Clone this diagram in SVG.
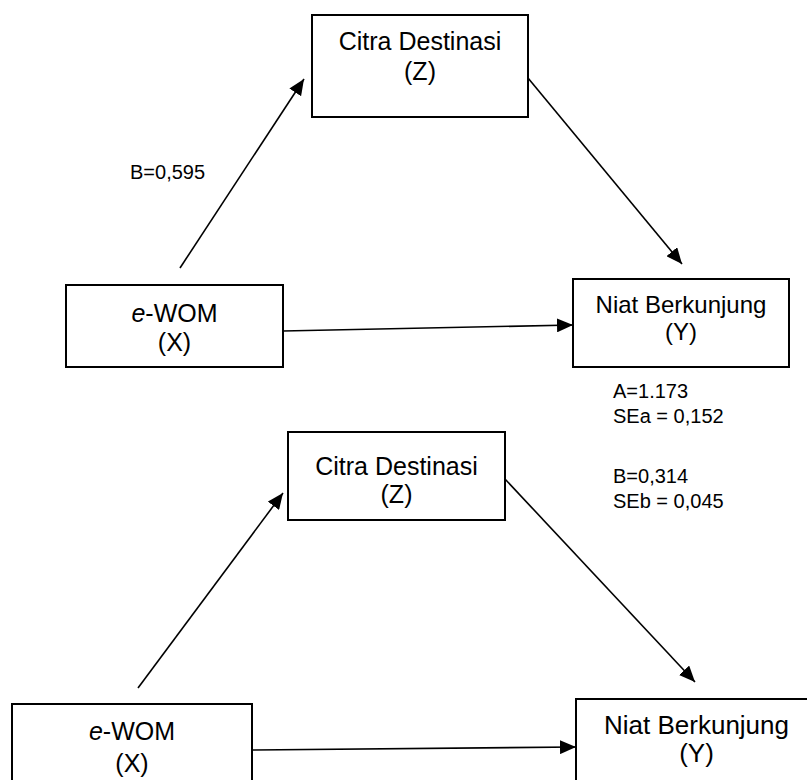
<svg xmlns="http://www.w3.org/2000/svg" width="807" height="780" viewBox="0 0 807 780">
<style>
.box{fill:#fff;stroke:#000;stroke-width:2}
.t{font-family:"Liberation Sans",Arial,sans-serif;font-size:25px;fill:#000;text-anchor:middle}
.l{font-family:"Liberation Sans",Arial,sans-serif;font-size:20px;fill:#000}
.c{stroke:#000;stroke-width:1.6;fill:none;marker-end:url(#ah)}
</style>
<defs>
<marker id="ah" viewBox="0 0 16 14" refX="16" refY="7" markerWidth="16" markerHeight="14" markerUnits="userSpaceOnUse" orient="auto">
<path d="M0,0 L16,7 L0,14 Z" fill="#000"/>
</marker>
</defs>
<rect width="807" height="780" fill="#fff"/>
<g id="connectors">
<line class="c" x1="180" y1="268" x2="304" y2="79"/>
<line class="c" x1="528" y1="78" x2="682" y2="264"/>
<line class="c" x1="283" y1="331" x2="573" y2="325"/>
<line class="c" x1="138" y1="688" x2="283" y2="493"/>
<line class="c" x1="505" y1="479" x2="695" y2="682"/>
<line class="c" x1="253" y1="750" x2="576" y2="747"/>
</g>
<g id="citra1">
<rect class="box" x="312" y="15" width="216" height="102"/>
<text class="t" x="420" y="50">Citra Destinasi</text>
<text class="t" x="420" y="80">(Z)</text>
</g>
<g id="niat1">
<rect class="box" x="573" y="279" width="216" height="88"/>
<text class="t" x="681" y="313" style="font-size:24px">Niat Berkunjung</text>
<text class="t" x="681" y="340" style="font-size:24px">(Y)</text>
</g>
<g id="ewom1">
<rect class="box" x="66" y="285" width="217" height="82"/>
<text class="t" x="174.5" y="322"><tspan font-style="italic">e</tspan>-WOM</text>
<text class="t" x="174.5" y="351">(X)</text>
</g>
<g id="citra2">
<rect class="box" x="288" y="432" width="217" height="88"/>
<text class="t" x="396.5" y="475">Citra Destinasi</text>
<text class="t" x="396.5" y="503">(Z)</text>
</g>
<g id="niat2">
<rect class="box" x="576" y="699" width="241" height="100"/>
<text class="t" x="696.5" y="734" style="font-size:26px">Niat Berkunjung</text>
<text class="t" x="696.5" y="762" style="font-size:26px">(Y)</text>
</g>
<g id="ewom2">
<rect class="box" x="12" y="704" width="240" height="100"/>
<text class="t" x="132" y="740"><tspan font-style="italic">e</tspan>-WOM</text>
<text class="t" x="132" y="772">(X)</text>
</g>
<g id="labels">
<text class="l" x="130" y="179">B=0,595</text>
<text class="l" x="613" y="398">A=1.173</text>
<text class="l" x="613" y="423">SEa = 0,152</text>
<text class="l" x="613" y="483">B=0,314</text>
<text class="l" x="613" y="508">SEb = 0,045</text>
</g>
</svg>
